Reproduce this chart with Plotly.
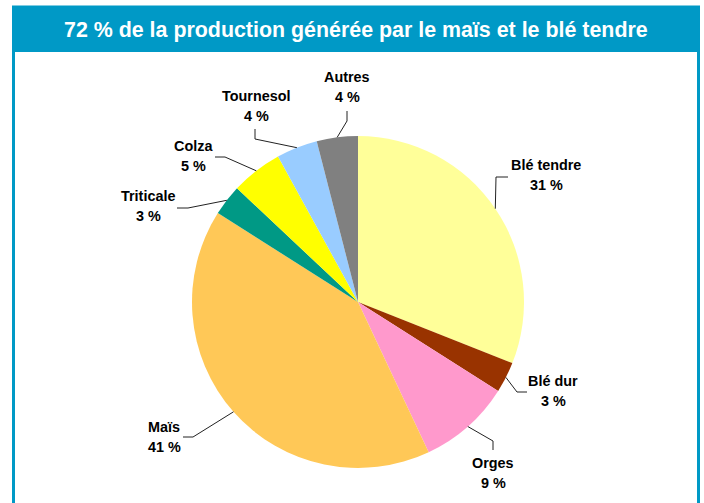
import math
import plotly.graph_objects as go

# ---- data ----
categories = ["Blé tendre", "Blé dur", "Orges", "Maïs", "Triticale", "Colza", "Tournesol", "Autres"]
shares = [31, 3, 9, 41, 3, 5, 4, 4]
colors = ["#FFFF99", "#993300", "#FF99CC", "#FFC857", "#009985", "#FFFF00", "#99CCFF", "#808080"]
title_text = "72 % de la production générée par le maïs et le blé tendre"

# ---- layout (pixel positions) ----
W, H = 704, 503
CX, CY, R = 358, 302, 166
# label centre x, name line y, value line y
label_pos = [(546, 165, 185), (553, 381, 401), (493, 463, 483), (164, 427, 447),
             (148, 196, 216), (193, 146, 166), (256, 96, 116), (347, 77, 97)]
# elbow point and end point of each leader line
leader_mid = [(496, 177), (517, 392), (493, 441), (193, 437),
              (188, 208), (225, 157), (255, 139), (347, 121)]
leader_end = [(508, 177), (527, 392), (493, 450), (183, 437),
              (177, 208), (215, 157), (255, 129), (347, 111)]
FRAME = "#0099C6"

fig = go.Figure()
fig.add_trace(go.Pie(
    labels=categories, values=shares, sort=False, direction="clockwise", rotation=0,
    marker=dict(colors=colors, line=dict(width=0)), textinfo="none", hoverinfo="label+percent",
    showlegend=False,
    domain=dict(x=[(CX - R) / W, (CX + R) / W], y=[1 - (CY + R) / H, 1 - (CY - R) / H]),
))

shapes = []
annotations = []
# frame and title band
shapes.append(dict(type="rect", xref="x", yref="y", x0=13.5, x1=698.5, y0=7, y1=520,
                   line=dict(color=FRAME, width=3), fillcolor="rgba(0,0,0,0)", layer="above"))
shapes.append(dict(type="rect", xref="x", yref="y", x0=12, x1=700, y0=6, y1=52,
                   line=dict(width=0), fillcolor=FRAME, layer="above"))
annotations.append(dict(x=355.5, y=30, xref="x", yref="y", text="<b>" + title_text + "</b>",
                        showarrow=False, font=dict(family="Liberation Sans, Arial", size=21.4, color="white"),
                        xanchor="center", yanchor="middle"))

total = sum(shares)
cum = 0
for i, (cat, v) in enumerate(zip(categories, shares)):
    mid = (cum + v / 2) / total * 2 * math.pi
    cum += v
    sx = CX + R * math.sin(mid)
    sy = CY - R * math.cos(mid)
    (mx, my), (ex, ey) = leader_mid[i], leader_end[i]
    shapes.append(dict(type="path", xref="x", yref="y",
                       path=f"M {sx:.1f},{sy:.1f} L {mx},{my} L {ex},{ey}",
                       line=dict(color="#222222", width=1), layer="above"))
    lx, ly1, ly2 = label_pos[i]
    for txt, ly in ((cat, ly1), (f"{v} %", ly2)):
        annotations.append(dict(x=lx, y=ly, xref="x", yref="y", text="<b>" + txt + "</b>",
                                showarrow=False, font=dict(family="Liberation Sans, Arial", size=14.4, color="black"),
                                xanchor="center", yanchor="middle"))

fig.update_layout(
    width=W, height=H, margin=dict(l=0, r=0, t=0, b=0, pad=0),
    paper_bgcolor="white", plot_bgcolor="rgba(0,0,0,0)",
    xaxis=dict(range=[0, W], visible=False, fixedrange=True, domain=[0, 1]),
    yaxis=dict(range=[H, 0], visible=False, fixedrange=True, domain=[0, 1]),
    shapes=shapes, annotations=annotations,
)
fig.write_html("out.html", config={"displayModeBar": False},
               post_script="document.body.style.margin='0';document.body.style.overflow='hidden';")
